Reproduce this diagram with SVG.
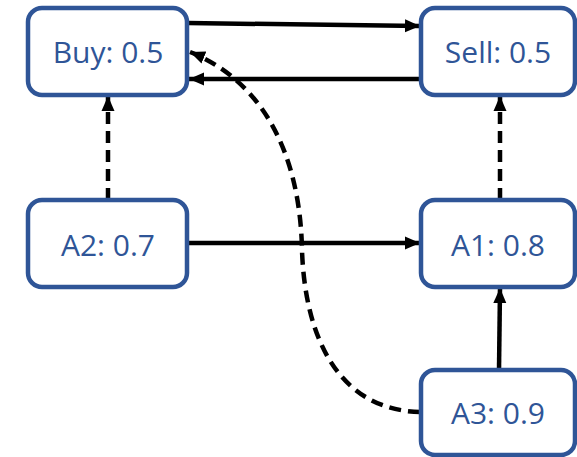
<svg xmlns="http://www.w3.org/2000/svg" width="577" height="457" viewBox="0 0 577 457">
<style>
.node rect{fill:#fff;stroke:#2F5597;stroke-width:4.5}
.node text{font-family:"Open Sans","Noto Sans",sans-serif;font-size:30px;fill:#2F5597;text-anchor:middle;dominant-baseline:central}
.c{fill:none;stroke:#000;stroke-width:4.5;marker-end:url(#ah)}
.d{stroke-dasharray:12 7}
</style>
<defs>
<marker id="ah" markerUnits="userSpaceOnUse" markerWidth="16" markerHeight="16" viewBox="0 0 16 16" refX="15" refY="8" orient="auto">
<path d="M0,1.5 L15,8 L0,14.5 Z" fill="#000"/>
</marker>
</defs>
<g id="connectors">
<path class="c" d="M188,23 L420,26"/>
<path class="c" d="M421,79 L189,79"/>
<path class="c d" d="M108,200 L108,96"/>
<path class="c d" d="M500,200 L500,96"/>
<path class="c" d="M188,243 L420,243"/>
<path class="c" d="M499,370 L500,288"/>
<path class="c d" d="M420,412 C340,410 305,340 302,250 C300,150 260,80 190,52"/>
</g>
<g id="buy" class="node"><rect x="28" y="8" width="159" height="87" rx="14"/><text x="108" y="51">Buy: 0.5</text></g>
<g id="sell" class="node"><rect x="421" y="8" width="154" height="87" rx="14"/><text x="498" y="51">Sell: 0.5</text></g>
<g id="a2" class="node"><rect x="28" y="200" width="159" height="87" rx="14"/><text x="108" y="244">A2: 0.7</text></g>
<g id="a1" class="node"><rect x="421" y="200" width="154" height="87" rx="14"/><text x="498" y="244">A1: 0.8</text></g>
<g id="a3" class="node"><rect x="421" y="370" width="154" height="85" rx="14"/><text x="498" y="412">A3: 0.9</text></g>
</svg>
